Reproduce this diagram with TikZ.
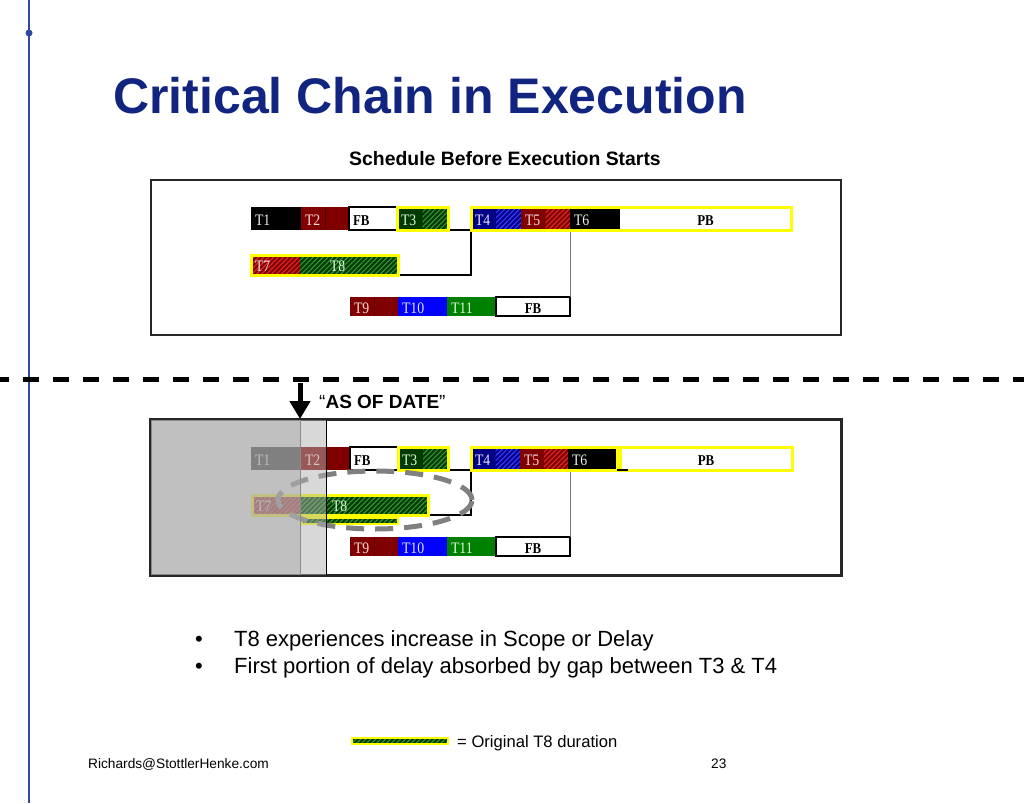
\documentclass[tikz,border=0pt]{standalone}
\usepackage{fontspec}
\setmainfont{Liberation Sans}
\newfontfamily\taskfont[FakeStretch=0.86]{Liberation Serif}
\usetikzlibrary{positioning,fit,patterns.meta,shapes.geometric,arrows.meta}

\definecolor{titleblue}{RGB}{16,36,128}
\definecolor{rulerblue}{RGB}{45,75,160}
\definecolor{dkred}{RGB}{128,0,0}
\definecolor{htred}{RGB}{225,40,40}
\definecolor{dkgreen}{RGB}{0,58,0}
\definecolor{htgreen}{RGB}{55,150,55}
\definecolor{dkblue}{RGB}{0,0,135}
\definecolor{htblue}{RGB}{60,60,255}
\definecolor{blue10}{RGB}{0,0,255}
\definecolor{green11}{RGB}{0,128,0}
\definecolor{ylw}{RGB}{255,255,0}
\definecolor{txred}{RGB}{250,220,220}
\definecolor{txgreen}{RGB}{220,252,220}
\definecolor{txblue}{RGB}{230,230,255}
\definecolor{txgray}{RGB}{240,240,240}

\tikzstyle{task} = [rectangle, anchor=west, inner xsep=4pt, inner ysep=0pt, outer sep=0pt, align=left, text height=13pt, text depth=0pt, font=\taskfont\fontsize{16}{16}\selectfont]
\tikzstyle{buffer} = [task, fill=white, draw=black, line width=1.2pt, font=\taskfont\bfseries\fontsize{15}{15}\selectfont]
\tikzstyle{r1} = [minimum height=23pt]
\tikzstyle{r2} = [minimum height=20pt]
\tikzstyle{r3} = [minimum height=19pt]
\tikzstyle{hatch} = [pattern={Lines[angle=45,distance=3.5pt,line width=1.1pt]}]
\tikzstyle{ybox} = [rectangle, draw=ylw, line width=3pt, inner sep=0pt]
\tikzstyle{origbar} = [rectangle, anchor=west, inner sep=0pt, minimum height=6pt, fill=dkgreen, postaction={hatch, pattern color=htgreen}, postaction={draw=ylw, line width=2.5pt}]
\tikzstyle{panel} = [rectangle, draw=black!85, line width=2pt, fill=white, anchor=north west, inner sep=0pt, minimum width=690pt, minimum height=155pt]
\tikzstyle{link} = [line width=1.4pt]
\tikzstyle{feed} = [black!55, line width=1pt]

\begin{document}
\begin{tikzpicture}[x=1pt, y=-1pt]
	\useasboundingbox (0,0) rectangle (1024,803);

	% SLIDE FRAME
	\coordinate (ruleT) at (29,0);
	\coordinate (ruleB) at (29,803);
	\draw[rulerblue, line width=1.5pt] (ruleT) -- (ruleB);
	\node[circle, fill=rulerblue, inner sep=0pt, minimum size=7pt] (dot) at (29,33) {};
	\node[anchor=base west, inner sep=0pt, text=titleblue, font=\bfseries\fontsize{50}{60}\selectfont] (title) at (113,113) {Critical Chain in Execution};
	\node[anchor=base, inner sep=0pt, font=\bfseries\fontsize{19.4}{23}\selectfont] (schedA) at (505,165) {Schedule Before Execution Starts};

	% BEFORE EXECUTION
	\node[panel] (before) at (150,179) {};
	\node[task, r1, fill=black, text=txgray, text width=42pt] (T1) at (251,218.5) {T1};
	\node[task, r1, fill=dkred, text=txred, text width=40pt, right=0pt of T1] (T2) {T2};
	\node[buffer, r1, text width=40pt, right=0pt of T2] (FB1) {FB};
	\node[task, r1, fill=dkgreen, text=txgreen, text width=43pt, right=0pt of FB1] (T3) {T3};
	\node[task, r1, fill=dkblue, text=txblue, text width=42pt, right=23pt of T3] (T4) {T4};
	\node[task, r1, fill=dkred, text=txred, text width=41pt, right=0pt of T4] (T5) {T5};
	\node[task, r1, fill=black, text=txgray, text width=42pt, right=0pt of T5] (T6) {T6};
	\node[buffer, r1, draw=none, text width=163pt, align=center, right=0pt of T6] (PB) {PB};

	\node[task, r2, fill=dkred, text=txred, text width=41pt, postaction={hatch, pattern color=htred}] (T7) at (251,265) {T7};
	\node[task, r2, fill=dkgreen, text=txgreen, text width=90pt, postaction={hatch, pattern color=htgreen}, right=0pt of T7] (T8) {\hspace*{26pt}T8};

	\node[task, r3, fill=dkred, text=txred, text width=40pt] (T9) at (350,306.5) {T9};
	\node[task, r3, fill=blue10, text=txblue, text width=41pt, right=0pt of T9] (T10) {T10};
	\node[task, r3, fill=green11, text=txgreen, text width=41pt, right=0pt of T10] (T11) {T11};
	\node[buffer, r3, text width=66pt, align=center, right=0pt of T11] (FB2) {FB};

	\path[hatch, pattern color=htgreen] (T3.north) rectangle (T3.south east);
	\path[hatch, pattern color=htblue] (T4.north) rectangle (T4.south east);
	\path[hatch, pattern color=htred] (T5.north) rectangle (T5.south east);
	\draw[black!40!dkred] (T2.north) -- (T2.south);
	\draw[black!40!dkred] (T9.north) -- (T9.south);

	\draw[link] (T3.south east) -- (T4.south west);
	\draw[link] (T8.south east) -| (T4.south west);
	\draw[feed] (FB2.north east) -- (FB2.north east |- T6.south);

	\node[ybox, fit=(T3)] (crit3) {};
	\node[ybox, fit=(T7)(T8)] (feedA) {};
	\node[ybox, fit=(T4)(PB)] (critA) {};

	% CUT LINE
	\coordinate (cutL) at (0,379);
	\coordinate (cutR) at (1024,379);
	\draw[line width=5pt, dash pattern=on 16pt off 14pt, dash phase=7pt] (cutL) -- (cutR);

	% AFTER AS OF DATE
	\node[panel] (after) at (150,419) {};
	\node[task, r1, fill=black, text=txgray, text width=42pt] (T1b) at (251,458.5) {T1};
	\node[task, r1, fill=dkred, text=txred, text width=41pt, right=0pt of T1b] (T2b) {T2};
	\node[buffer, r1, text width=40pt, right=0pt of T2b] (FB1b) {FB};
	\node[task, r1, fill=dkgreen, text=txgreen, text width=42pt, right=0pt of FB1b] (T3b) {T3};
	\node[task, r1, fill=dkblue, text=txblue, text width=41pt, right=23pt of T3b] (T4b) {T4};
	\node[task, r1, fill=dkred, text=txred, text width=40pt, right=0pt of T4b] (T5b) {T5};
	\node[task, r1, fill=black, text=txgray, text width=41pt, right=0pt of T5b] (T6b) {T6};
	\node[buffer, r1, draw=none, text width=164pt, align=center, right=3pt of T6b] (PBb) {PB};

	\node[task, r2, fill=dkred, text=txred, text width=40pt, postaction={hatch, pattern color=htred}] (T7b) at (252,505) {T7};
	\node[task, r2, fill=dkgreen, text=txgreen, text width=120pt, postaction={hatch, pattern color=htgreen}, right=0pt of T7b] (T8b) {\hspace*{28pt}T8};
	\node[origbar, minimum width=96pt] (T8o) at (302,521) {};

	\node[task, r3, fill=dkred, text=txred, text width=40pt] (T9b) at (350,546.5) {T9};
	\node[task, r3, fill=blue10, text=txblue, text width=41pt, right=0pt of T9b] (T10b) {T10};
	\node[task, r3, fill=green11, text=txgreen, text width=41pt, right=0pt of T10b] (T11b) {T11};
	\node[buffer, r3, text width=66pt, align=center, right=0pt of T11b] (FB2b) {FB};

	\path[hatch, pattern color=htgreen] (T3b.north) rectangle (T3b.south east);
	\path[hatch, pattern color=htblue] (T4b.north) rectangle (T4b.south east);
	\path[hatch, pattern color=htred] (T5b.north) rectangle (T5b.south east);
	\draw[black!40!dkred] (T2b.north) -- (T2b.south);
	\draw[black!40!dkred] (T9b.north) -- (T9b.south);

	\draw[link] (T3b.south east) -- (T4b.south west);
	\draw[link] (T8b.south east) -| (T4b.south west);
	\draw[feed] (FB2b.north east) -- (FB2b.north east |- T6b.south);

	\node[ybox, fit=(T3b)] (crit3b) {};
	\node[ybox, fit=(T7b)(T8b)] (feedB) {};
	\node[ybox, fit=(T4b)(T6b)] (critB) {};
	\node[ybox, fit=(PBb)] (critPB) {};
	\draw[link] (T6b.south east) -- ([xshift=8pt]PBb.south west);

	\node[ellipse, draw=black!50, line width=5pt, dash pattern=on 18pt off 11pt, minimum width=194pt, minimum height=58pt, inner sep=0pt] (slip) at (375,500) {};

	% done part
	\coordinate (asof) at (300,383);
	\coordinate (today) at (326,419);
	\fill[black!33, opacity=0.75] (after.north west) rectangle (asof |- after.south);
	\fill[black!30, opacity=0.5] (asof |- after.north) rectangle (today |- after.south);
	\draw[black!45] (asof |- after.north) -- (asof |- after.south);
	\draw[black] (today) -- (today |- after.south);
	\draw[draw=black!85, line width=2pt] (after.north west) rectangle (after.south east);

	\draw[-{Triangle[width=20pt,length=18pt]}, line width=5pt] (asof) -- (asof |- after.north);
	\node[anchor=base west, inner sep=0pt, font=\fontsize{19}{23}\selectfont] (asofTxt) at (319,408) {“\textbf{AS OF DATE}”};

	% NOTES
	\node[anchor=base west, inner sep=0pt, font=\fontsize{22}{27}\selectfont] (note1) at (195,646) {\makebox[39pt][l]{•}T8 experiences increase in Scope or Delay};
	\node[anchor=base west, inner sep=0pt, font=\fontsize{22}{27}\selectfont] (note2) at (195,673) {\makebox[39pt][l]{•}First portion of delay absorbed by gap between T3 \& T4};

	\node[origbar, minimum width=96pt] (keybar) at (352,741) {};
	\node[anchor=base west, inner sep=0pt, font=\fontsize{16.6}{20}\selectfont] (keytxt) at (457,747) {= Original T8 duration};

	\node[anchor=base west, inner sep=0pt, font=\fontsize{13.7}{16}\selectfont] (mail) at (88,768) {Richards@StottlerHenke.com};
	\node[anchor=base west, inner sep=0pt, font=\fontsize{13.7}{16}\selectfont] (page) at (711,768) {23};
\end{tikzpicture}
\end{document}
